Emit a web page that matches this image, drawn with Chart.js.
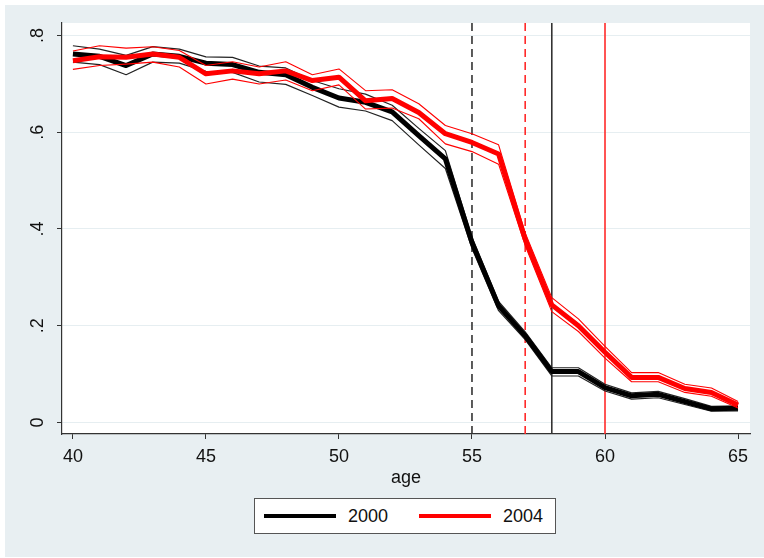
<!DOCTYPE html>
<html>
<head>
<meta charset="utf-8">
<script src="https://cdn.jsdelivr.net/npm/chart.js@4.4.1/dist/chart.umd.min.js"></script>
<style>
  html, body { margin: 0; padding: 0; background: #fff; }
  #wrap { position: relative; width: 764px; height: 558px; overflow: hidden; }
  #bg { position: absolute; left: 5px; top: 5px; width: 759px; height: 552px; background: #e8eff2; }
  #chart { position: absolute; left: 0; top: 0; }
  #legend {
    position: absolute; left: 254px; top: 498px; width: 300px; height: 34px;
    border: 1px solid #555; background: #fff;
    font-family: "Liberation Sans", Arial, sans-serif; font-size: 18px; color: #111;
  }
  .item { position: absolute; top: 0; height: 34px; display: flex; align-items: center; }
  .swatch { width: 72px; height: 4px; margin-right: 12px; }
</style>
</head>
<body>
<div id="wrap">
  <div id="bg"></div>
  <canvas id="chart" width="764" height="558"></canvas>
  <div id="legend">
    <div class="item" style="left:9px"><span class="swatch" style="background:#000"></span>2000</div>
    <div class="item" style="left:164px"><span class="swatch" style="background:#ff0000"></span>2004</div>
  </div>
</div>
<script>
const ages = [40, 41, 42, 43, 44, 45, 46, 47, 48, 49, 50, 51, 52, 53, 54, 55, 56, 57, 58, 59, 60, 61, 62, 63, 64, 65];

const y2000 = [.762, .757, .738, .762, .757, .743, .740, .724, .719, .693, .671, .662, .642, .593, .545, .372, .241, .179, .105, .105, .072, .055, .058, .043, .028, .029];
const y2000Hi = [.779, .772, .759, .777, .772, .756, .755, .737, .733, .707, .690, .679, .656, .608, .562, .383, .250, .187, .113, .113, .079, .061, .064, .049, .033, .034];
const y2000Lo = [.745, .740, .719, .745, .743, .726, .724, .704, .699, .676, .652, .644, .624, .574, .525, .360, .231, .171, .096, .096, .065, .048, .051, .037, .023, .024];

const y2004 = [.748, .756, .755, .762, .755, .721, .727, .721, .727, .707, .714, .665, .670, .641, .597, .579, .555, .379, .243, .200, .145, .093, .093, .070, .062, .036];
const y2004Hi = [.768, .779, .774, .777, .769, .738, .746, .735, .746, .719, .731, .686, .688, .659, .614, .597, .574, .392, .258, .214, .157, .103, .103, .079, .071, .043];
const y2004Lo = [.730, .738, .741, .745, .735, .700, .710, .700, .708, .686, .698, .648, .650, .628, .576, .560, .534, .366, .229, .188, .133, .084, .084, .062, .054, .030];

// vertical reference lines (age)
const refAges2000 = [55, 58];
const refAges2004 = [57, 60];

const xTicks = [40, 45, 50, 55, 60, 65];
const yTicks = [0, .2, .4, .6, .8];
const yTickLabels = ['0', '.2', '.4', '.6', '.8'];

const X_MIN = 39.59, X_MAX = 65.45;
const Y_MIN = -0.024, Y_MAX = 0.826;

const pts = arr => arr.map((v, i) => ({ x: ages[i], y: v }));
const vline = a => [{ x: a, y: Y_MIN }, { x: a, y: Y_MAX }];

const line = (label, data, color, width, extra) => Object.assign({
    label, data, borderColor: color, borderWidth: width,
    pointRadius: 0, fill: false, tension: 0, borderJoinStyle: 'round'
}, extra || {});

// first dataset is drawn on top
const datasets = [
    line('2004', pts(y2004), '#ff0000', 5),
    line('2004 hi', pts(y2004Hi), '#ff0000', 1.1),
    line('2004 lo', pts(y2004Lo), '#ff0000', 1.1),
    line('2000', pts(y2000), '#000000', 5),
    line('2000 hi', pts(y2000Hi), '#222222', 1.2),
    line('2000 lo', pts(y2000Lo), '#222222', 1.2),
    line('r55', vline(refAges2000[0]), '#333333', 1.6, { borderDash: [8, 5] }),
    line('r57', vline(refAges2004[0]), '#ff2a2a', 1.6, { borderDash: [8, 5] }),
    line('r58', vline(refAges2000[1]), '#333333', 1.6),
    line('r60', vline(refAges2004[1]), '#ff2a2a', 1.6),
];

const plotBg = {
    id: 'plotBg',
    beforeDraw(chart) {
        const { ctx, chartArea: a } = chart;
        ctx.save();
        ctx.fillStyle = '#ffffff';
        ctx.fillRect(a.left, a.top, a.right - a.left, a.bottom - a.top);
        ctx.restore();
    }
};

Chart.defaults.font.family = '"Liberation Sans", Arial, sans-serif';
Chart.defaults.font.size = 18;
Chart.defaults.color = '#111';

new Chart(document.getElementById('chart'), {
    type: 'line',
    data: { datasets },
    plugins: [plotBg],
    options: {
        responsive: false,
        animation: false,
        events: [],
        layout: { padding: { left: 5, right: 14, top: 23, bottom: 69 } },
        plugins: { legend: { display: false }, tooltip: { enabled: false } },
        scales: {
            x: {
                type: 'linear', min: X_MIN, max: X_MAX,
                afterBuildTicks: s => { s.ticks = xTicks.map(v => ({ value: v })); },
                afterFit: s => { s.height = 55; },
                ticks: { padding: 7, color: '#111', callback: v => String(v) },
                grid: { drawOnChartArea: false, tickLength: 5, tickColor: '#333', color: '#333' },
                border: { color: '#333', width: 1.2 },
                title: { display: true, text: 'age', color: '#111', font: { size: 18 }, padding: { top: 2, bottom: 0 } }
            },
            y: {
                type: 'linear', min: Y_MIN, max: Y_MAX,
                afterBuildTicks: s => { s.ticks = yTicks.map(v => ({ value: v })); },
                afterFit: s => { s.width = 57; },
                ticks: {
                    padding: 11, minRotation: 90, maxRotation: 90, crossAlign: 'center', color: '#111',
                    callback: (v) => yTickLabels[yTicks.indexOf(v)]
                },
                grid: { color: '#e6eef1', lineWidth: 1, tickLength: 5, tickColor: '#333' },
                border: { color: '#333', width: 1.2 }
            }
        }
    }
});
</script>
</body>
</html>
